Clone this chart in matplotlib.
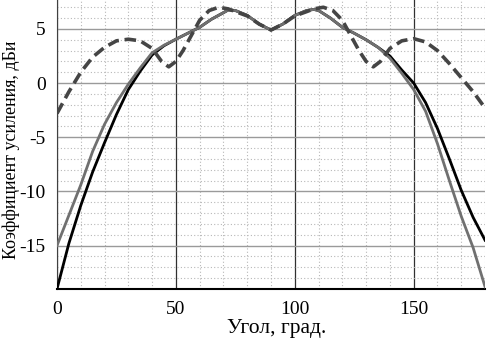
import matplotlib
matplotlib.use("Agg")
import matplotlib.pyplot as plt
from matplotlib.ticker import MultipleLocator

# Angle, degrees
ang_black = [0, 5, 10, 15, 20, 25, 30, 35, 40, 45, 50, 55, 60, 65, 70, 72, 75, 80, 85, 90,
             95, 100, 105, 108, 110, 115, 120, 125, 130, 135, 140, 145, 150, 155, 160, 165, 170, 175, 180]
gain_black = [-19.0, -14.8, -11.3, -8.2, -5.5, -2.9, -0.6, 1.1, 2.6, 3.45, 4.05, 4.6, 5.15, 5.9, 6.5, 6.75, 6.7, 6.25, 5.45, 4.9,
              5.45, 6.25, 6.7, 6.8, 6.7, 6.0, 5.15, 4.6, 4.0, 3.3, 2.5, 1.2, 0.0, -1.8, -4.2, -7.0, -9.9, -12.4, -14.5]

ang_gray = ang_black
gain_gray = [-15.0, -12.2, -9.4, -6.3, -3.8, -1.8, -0.1, 1.4, 2.8, 3.5, 4.05, 4.6, 5.15, 5.9, 6.5, 6.75, 6.7, 6.25, 5.45, 4.9,
             5.45, 6.25, 6.7, 6.8, 6.7, 6.0, 5.15, 4.6, 4.0, 3.3, 2.3, 0.9, -0.6, -2.6, -5.6, -9.0, -12.3, -15.2, -18.8]

ang_dash = [0, 5, 10, 15, 20, 25, 30, 35, 40, 44, 47, 50, 53, 57, 60, 64, 68, 72, 75, 80, 85, 90,
            95, 100, 105, 108, 112, 116, 120, 123, 127, 130, 133, 136, 140, 145, 150, 155, 160, 165, 170, 175, 180]
gain_dash = [-2.8, -0.8, 1.0, 2.4, 3.3, 3.9, 4.05, 3.9, 3.2, 2.0, 1.5, 2.0, 3.0, 4.6, 5.8, 6.7, 7.0, 6.85, 6.6, 6.2, 5.45, 4.9,
             5.45, 6.2, 6.6, 6.85, 7.0, 6.7, 5.8, 4.6, 3.0, 2.0, 1.5, 2.0, 3.2, 3.9, 4.1, 3.8, 3.0, 1.8, 0.5, -0.8, -2.3]

xticks = [0, 50, 100, 150]
yticks = [-15, -10, -5, 0, 5]

plt.rcParams['font.family'] = ['Liberation Serif', 'DejaVu Serif']
plt.rcParams['axes.unicode_minus'] = False

fig = plt.figure(figsize=(4.87, 3.44), dpi=100)
ax = fig.add_axes([0.117, 0.16, 0.879, 0.84])

ax.set_xlim(0, 180)
ax.set_ylim(-19, 7.67)
ax.set_xticks(xticks)
ax.set_yticks(yticks)
ax.xaxis.set_minor_locator(MultipleLocator(10))
ax.yaxis.set_minor_locator(MultipleLocator(1))

ax.grid(which='minor', axis='both', color='#b8b8b8', linestyle=(0, (1, 2)), linewidth=0.8)
ax.grid(which='major', axis='x', color='#303030', linestyle='-', linewidth=0.9)
ax.grid(which='major', axis='y', color='#9a9a9a', linestyle='-', linewidth=1.0)
ax.set_axisbelow(True)

ax.plot(ang_black, gain_black, color='black', linewidth=2.0, zorder=3)
ax.plot(ang_gray, gain_gray, color='#707070', linewidth=2.0, zorder=4)
ax.plot(ang_dash, gain_dash, color='#454545', linewidth=2.6, linestyle=(0, (3.2, 1.6)), zorder=5)

for s in ['top', 'right']:
    ax.spines[s].set_visible(False)
ax.spines['left'].set_color('#404040')
ax.spines['bottom'].set_color('black')
ax.spines['bottom'].set_linewidth(1.5)
ax.tick_params(which='both', length=0, labelsize=14, colors='black')
ax.tick_params(axis='x', pad=9)
ax.tick_params(axis='y', pad=8)

fig.text(277 / 487, 1 - 329 / 344, 'Угол, град.', fontsize=15.5, ha='center', va='center')
fig.text(11 / 487, 1 - 150 / 344, 'Коэффициент усиления, дБи', fontsize=13,
         rotation=90, ha='center', va='center')

fig.savefig('out.png', dpi=100)
